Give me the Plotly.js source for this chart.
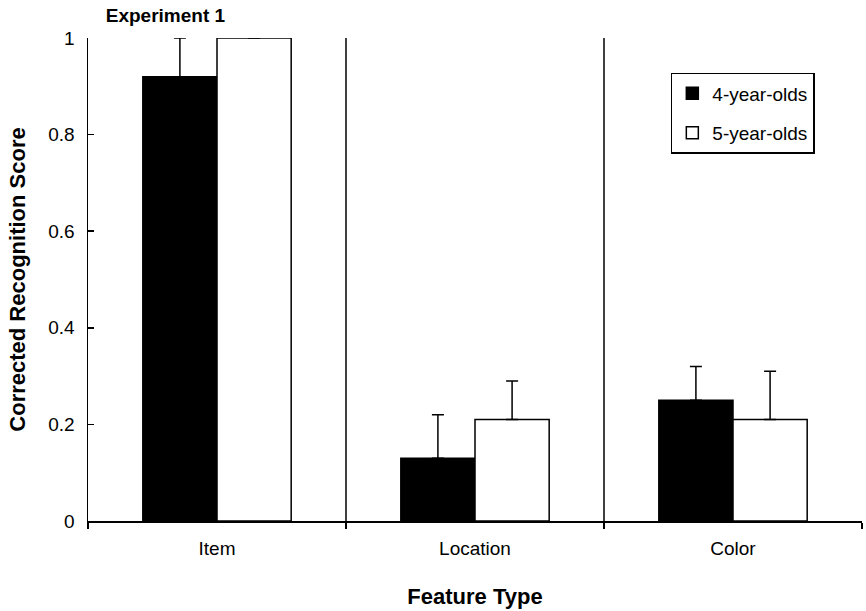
<!DOCTYPE html>
<html>
<head>
<meta charset="utf-8">
<script src="https://cdn.plot.ly/plotly-3.0.1.min.js"></script>
<style>html,body{margin:0;padding:0;background:#fff;}#chart{width:866px;height:611px;}</style>
</head>
<body>
<div id="chart"></div>
<script>
const categories = ["Item", "Location", "Color"];
const seriesNames = ["4-year-olds", "5-year-olds"];
const age4Scores = [0.92, 0.13, 0.25];
const age4Errors = [0.08, 0.09, 0.07];
const age5Scores = [1.0, 0.21, 0.21];
const age5Errors = [0.0, 0.08, 0.10];
const yTickVals = [0, 0.2, 0.4, 0.6, 0.8, 1];
const yTickText = ["0", "0.2", "0.4", "0.6", "0.8", "1"];

const FONT = "'Liberation Sans', Arial, Helvetica, sans-serif";

const traces = [
  {
    type: "bar", name: seriesNames[0], x: categories, y: age4Scores,
    legendgroup: "a",
    marker: {color: "#000000", line: {color: "#000000", width: 1.5}},
    error_y: {type: "data", array: age4Errors, arrayminus: age4Errors.map(() => 0), symmetric: false,
              visible: true, color: "#000000", thickness: 1.5, width: 6}
  },
  {
    type: "bar", name: seriesNames[1], x: categories, y: age5Scores,
    legendgroup: "b",
    marker: {color: "#ffffff", line: {color: "#000000", width: 1.5}},
    error_y: {type: "data", array: age5Errors, arrayminus: age5Errors.map(() => 0), symmetric: false,
              visible: true, color: "#000000", thickness: 1.5, width: 6}
  }
];

const separators = [0.5, 1.5].map(v => ({
  type: "line", xref: "x", yref: "paper", x0: v, x1: v, y0: 0, y1: 1,
  line: {color: "#000000", width: 1.5}, layer: "above"
}));

const layout = {
  width: 866, height: 611,
  margin: {l: 88, r: 4, t: 38, b: 90},
  paper_bgcolor: "#ffffff", plot_bgcolor: "#ffffff",
  font: {family: FONT, size: 19, color: "#000000"},
  barmode: "group", bargap: 0.425, bargroupgap: 0,
  title: {text: "<b>Experiment 1</b>", font: {family: FONT, size: 19, color: "#000000"},
          xref: "paper", x: 0.1, xanchor: "center", yref: "container", y: 0.975, yanchor: "middle"},
  xaxis: {
    type: "category", range: [-0.5, 2.5], fixedrange: true,
    showline: true, linecolor: "#000000", linewidth: 1.5,
    ticks: "outside", tickson: "boundaries", ticklen: 6, tickwidth: 1.5, tickcolor: "#000000",
    showgrid: false, zeroline: false, ticklabelstandoff: 10,
    tickfont: {family: FONT, size: 19, color: "#000000"},
    title: {text: "<b>Feature Type</b>", font: {family: FONT, size: 22, color: "#000000"}, standoff: 30}
  },
  yaxis: {
    range: [0, 1], fixedrange: true,
    tickvals: yTickVals, ticktext: yTickText,
    showline: true, linecolor: "#000000", linewidth: 1.5,
    ticks: "inside", ticklen: 6, tickwidth: 1.5, tickcolor: "#000000",
    showgrid: false, zeroline: false, ticklabelstandoff: 8,
    tickfont: {family: FONT, size: 19, color: "#000000"},
    title: {text: "<b>Corrected Recognition Score</b>", font: {family: FONT, size: 22, color: "#000000"}, standoff: 16}
  },
  showlegend: true,
  legend: {
    x: 0.753, y: 0.928, xanchor: "left", yanchor: "top",
    bgcolor: "#ffffff", bordercolor: "#000000", borderwidth: 1.5,
    font: {family: FONT, size: 19, color: "#000000"},
    traceorder: "grouped", tracegroupgap: 12, itemwidth: 30
  },
  shapes: separators
};

Plotly.newPlot("chart", traces, layout, {displayModeBar: false, staticPlot: true});
</script>
</body>
</html>
